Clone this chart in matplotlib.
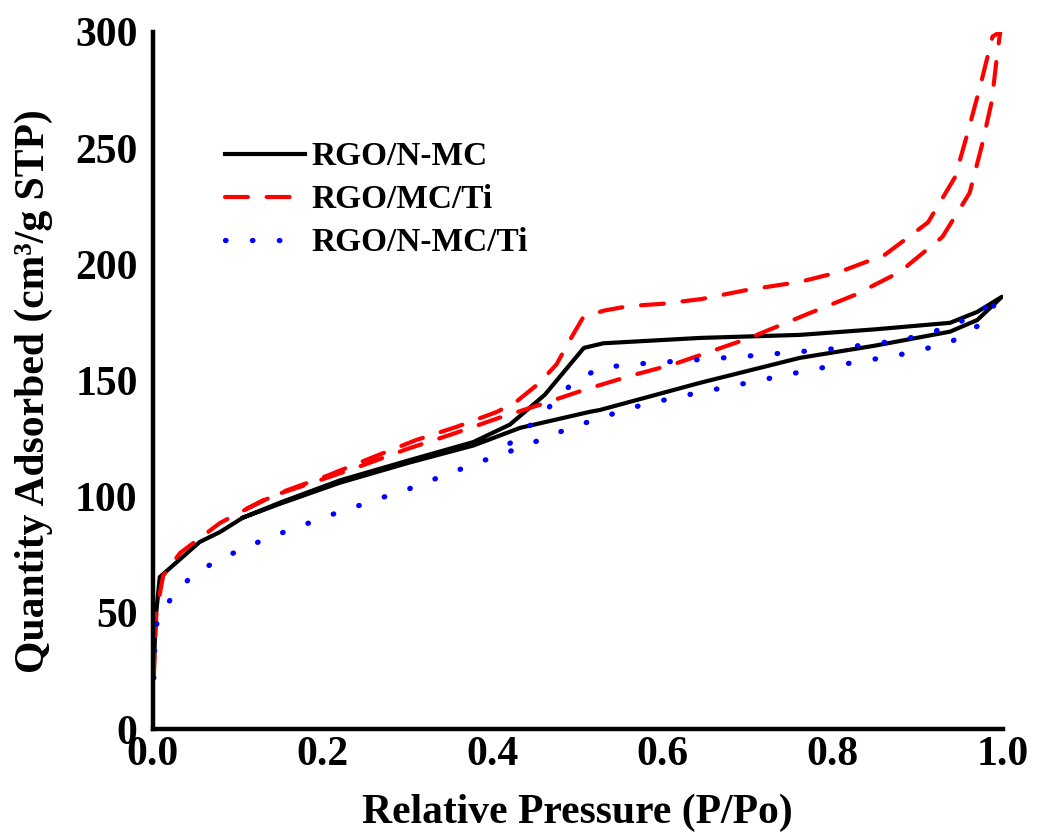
import matplotlib
matplotlib.use("Agg")
import matplotlib.pyplot as plt

# N2 adsorption/desorption isotherms (adsorption branch then desorption branch)
rgo_nmc_x = [0.001, 0.003, 0.008, 0.055, 0.079, 0.106, 0.15, 0.22, 0.3, 0.377, 0.432,
             0.514, 0.526, 0.644, 0.761, 0.85, 0.938, 0.97, 0.999,
             0.97, 0.938, 0.85, 0.761, 0.644, 0.53, 0.507, 0.461, 0.42, 0.377,
             0.3, 0.22, 0.15, 0.106]
rgo_nmc_y = [25, 47, 65.4, 80.5, 84.8, 91, 97, 106, 114.5, 122, 129.6,
             136.5, 137.3, 149, 159.7, 165, 171, 176, 186,
             179.5, 174.8, 172, 169.6, 168.3, 166, 164, 143.8, 131, 123.5,
             115.5, 107, 97.5, 91]

rgo_mc_ti_x = [0.001, 0.002, 0.004, 0.012, 0.032, 0.079, 0.138, 0.196, 0.247, 0.299,
               0.353, 0.408, 0.455, 0.508, 0.562, 0.613, 0.7, 0.773, 0.826, 0.879,
               0.929, 0.961, 0.975, 0.987, 0.993, 0.997,
               0.988, 0.973, 0.959, 0.944, 0.912, 0.861, 0.808, 0.761, 0.7,
               0.645, 0.6, 0.56, 0.53, 0.506, 0.49, 0.475, 0.455, 0.428, 0.405,
               0.357, 0.31, 0.259, 0.205, 0.149, 0.1]
rgo_mc_ti_y = [22, 33, 50, 66, 75.8, 88.7, 100, 107, 113.5, 120.5,
               127, 134, 139.5, 146, 152, 157, 168, 179, 186.8, 196.7,
               211.8, 230.7, 250.5, 270, 289, 300,
               298, 276, 257, 237.6, 218, 204, 196.7, 192.4, 189,
               185, 183, 182, 180, 177, 167, 157, 149, 141, 136.5,
               130, 124.4, 117, 109, 101.6, 93]

rgo_nmc_ti_x = [0.001, 0.002, 0.005, 0.024, 0.049, 0.082, 0.114, 0.145, 0.177, 0.208,
                0.241, 0.273, 0.304, 0.338, 0.369, 0.4, 0.432, 0.464, 0.494, 0.528,
                0.56, 0.592, 0.624, 0.7, 0.78, 0.846, 0.878, 0.909, 0.941, 0.973, 0.996,
                0.971, 0.94, 0.906, 0.875, 0.844, 0.812, 0.781, 0.7, 0.622, 0.588,
                0.558, 0.526, 0.494, 0.463, 0.432, 0.4]
rgo_nmc_ti_y = [22, 35, 47, 57.7, 67, 73.6, 79, 83.5, 87.8, 92,
                96, 100, 103.7, 108.5, 112.8, 117, 121, 125.7, 130, 134,
                138, 140.8, 143.4, 149, 155, 159, 161, 163.6, 167, 174, 185.5,
                179, 173.5, 169.6, 167, 165.7, 164, 163, 160.5, 158.4, 157.6,
                156.7, 155.4, 149, 137.3, 126.5, 117]

labels = ["RGO/N-MC", "RGO/MC/Ti", "RGO/N-MC/Ti"]
x_ticks = [0.0, 0.2, 0.4, 0.6, 0.8, 1.0]
y_ticks = [0, 50, 100, 150, 200, 250, 300]

plt.rcParams["font.family"] = ["Liberation Serif", "DejaVu Serif"]
plt.rcParams["font.weight"] = "bold"

fig = plt.figure(figsize=(10.37, 8.38), dpi=100)
ax = fig.add_axes([0.1475, 0.130, 0.8195, 0.832])

ax.plot(rgo_nmc_x, rgo_nmc_y, color="black", lw=3, solid_joinstyle="round",
        label=labels[0])
ax.plot(rgo_mc_ti_x, rgo_mc_ti_y, color="#ff0000", lw=3, dashes=[5.5, 4.5],
        dash_capstyle="round", label=labels[1])
ax.plot(rgo_nmc_ti_x, rgo_nmc_ti_y, color="#0000ff", lw=3.8, dashes=[0.1, 5.0],
        dash_capstyle="round", label=labels[2])

ax.set_xlim(0, 1.0)
ax.set_ylim(0, 300)
ax.set_xticks(x_ticks)
ax.set_xticklabels([f"{v:.1f}" for v in x_ticks])
ax.set_yticks(y_ticks)
ax.tick_params(axis="both", length=0, labelsize=30)
ax.tick_params(axis="x", pad=5)
ax.tick_params(axis="y", pad=11)

for side in ["top", "right"]:
    ax.spines[side].set_visible(False)
for side in ["left", "bottom"]:
    ax.spines[side].set_linewidth(3.2)

ax.set_xlabel("Relative Pressure (P/Po)", fontsize=30, fontweight="bold", labelpad=14)
ax.set_ylabel("Quantity Adsorbed (cm³/g STP)", fontsize=30, fontweight="bold")
ax.yaxis.set_label_coords(-0.118, 0.484)

ax.legend(loc="center left", bbox_to_anchor=(0.085, 0.759), frameon=False,
          fontsize=24, handlelength=2.4, handletextpad=0.2, labelspacing=0.36,
          borderaxespad=0, borderpad=0)

fig.savefig("out.png", dpi=100)
